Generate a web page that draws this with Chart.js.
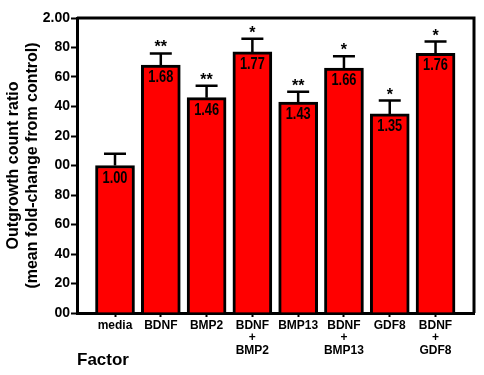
<!DOCTYPE html>
<html>
<head>
<meta charset="utf-8">
<script src="https://cdn.jsdelivr.net/npm/chart.js@4.4.1/dist/chart.umd.min.js"></script>
<style>
  body { margin: 0; background: #fff; }
  #wrap { width: 484px; height: 375px; position: relative; }
</style>
</head>
<body>
<div id="wrap"><canvas id="chart"></canvas></div>
<script>
// Values
const factors = ['media', 'BDNF', 'BMP2', ['BDNF', '+', 'BMP2'], 'BMP13', ['BDNF', '+', 'BMP13'], 'GDF8', ['BDNF', '+', 'GDF8']];
const ratios = [1.00, 1.68, 1.46, 1.77, 1.43, 1.66, 1.35, 1.76];
const errorTops = [1.08, 1.76, 1.54, 1.86, 1.50, 1.74, 1.44, 1.84];
const stars = ['', '**', '**', '*', '**', '*', '*', '*'];
const yTicks = [0, 0.2, 0.4, 0.6, 0.8, 1.0, 1.2, 1.4, 1.6, 1.8, 2.0];

const narrow = "'Liberation Sans Narrow', 'Arial Narrow', 'Liberation Sans', Arial, sans-serif";
const sans = "'Liberation Sans', Arial, sans-serif";

// draws the box, error bars, stars and the value labels
const extras = {
    id: 'extras',
    afterDatasetsDraw(chart) {
        const { ctx, chartArea, scales: { x, y } } = chart;
        ctx.save();
        ctx.strokeStyle = '#000';
        ctx.fillStyle = '#000';

        // error bars
        ctx.lineWidth = 2.5;
        ratios.forEach((v, i) => {
            const cx = x.getPixelForValue(i);
            const yTop = y.getPixelForValue(errorTops[i]);
            ctx.beginPath();
            ctx.moveTo(cx, y.getPixelForValue(v));
            ctx.lineTo(cx, yTop);
            ctx.moveTo(cx - 11, yTop);
            ctx.lineTo(cx + 11, yTop);
            ctx.stroke();
        });

        // significance stars
        ctx.font = 'bold 16px ' + sans;
        ctx.textAlign = 'center';
        ctx.textBaseline = 'alphabetic';
        stars.forEach((s, i) => {
            if (!s) return;
            ctx.fillText(s, x.getPixelForValue(i), y.getPixelForValue(errorTops[i]) - 1);
        });

        // values inside the bars, squeezed a bit like the original
        ctx.font = 'bold 16px ' + sans;
        ratios.forEach((v, i) => {
            ctx.save();
            ctx.translate(x.getPixelForValue(i), y.getPixelForValue(v) + 17);
            ctx.scale(0.8, 1);
            ctx.fillText(v.toFixed(2), 0, 0);
            ctx.restore();
        });

        // top and right frame
        ctx.lineWidth = 3;
        ctx.beginPath();
        ctx.moveTo(chartArea.left, chartArea.top);
        ctx.lineTo(chartArea.right, chartArea.top);
        ctx.lineTo(chartArea.right, chartArea.bottom);
        ctx.stroke();
        ctx.restore();
    }
};

new Chart(document.getElementById('chart'), {
    type: 'bar',
    data: {
        datasets: [{
            data: ratios.map((v, i) => ({ x: i, y: v })),
            backgroundColor: '#ff0000',
            borderColor: '#000',
            borderWidth: 3,
            borderSkipped: 'bottom',
            barThickness: 39
        }]
    },
    options: {
        responsive: true,
        maintainAspectRatio: false,
        animation: false,
        layout: { padding: { top: 18, right: 10, left: 0, bottom: 0 } },
        plugins: { legend: { display: false }, tooltip: { enabled: false } },
        scales: {
            x: {
                type: 'linear',
                offset: false,
                min: -0.83,
                max: 7.84,
                afterBuildTicks: s => { s.ticks = factors.map((_, i) => ({ value: i })); },
                afterFit: s => { s.height = 62; s.paddingLeft = 0; s.paddingRight = 0; },
                border: { color: '#000', width: 3 },
                grid: { offset: false, drawOnChartArea: false, drawTicks: true, tickLength: 4, tickColor: '#000', tickWidth: 2 },
                ticks: {
                    autoSkip: false,
                    maxRotation: 0,
                    padding: 2,
                    color: '#000',
                    font: { family: sans, size: 12, weight: 'bold', lineHeight: 1.05 },
                    callback: v => factors[v]
                },
                title: {
                    display: true,
                    text: 'Factor',
                    align: 'start',
                    color: '#000',
                    font: { family: sans, size: 17, weight: 'bold' },
                    padding: { top: 0, bottom: 4 }
                }
            },
            y: {
                min: 0,
                max: 2,
                afterBuildTicks: s => { s.ticks = yTicks.map(v => ({ value: v })); },
                afterFit: s => { s.width = 77; },
                border: { color: '#000', width: 3 },
                grid: { drawOnChartArea: false, drawTicks: true, tickLength: 6, tickColor: '#000', tickWidth: 2 },
                ticks: {
                    padding: 1,
                    color: '#000',
                    font: { family: narrow, size: 14, weight: 'bold' },
                    callback: v => v === 2 ? '2.00' : v.toFixed(2).slice(-2)
                },
                title: {
                    display: true,
                    text: ['Outgrowth count ratio', '(mean fold-change from control)'],
                    color: '#000',
                    font: { family: sans, size: 16, weight: 'bold', lineHeight: 1.2 },
                    padding: { top: 4, bottom: 0 }
                }
            }
        }
    },
    plugins: [extras]
});
</script>
</body>
</html>
